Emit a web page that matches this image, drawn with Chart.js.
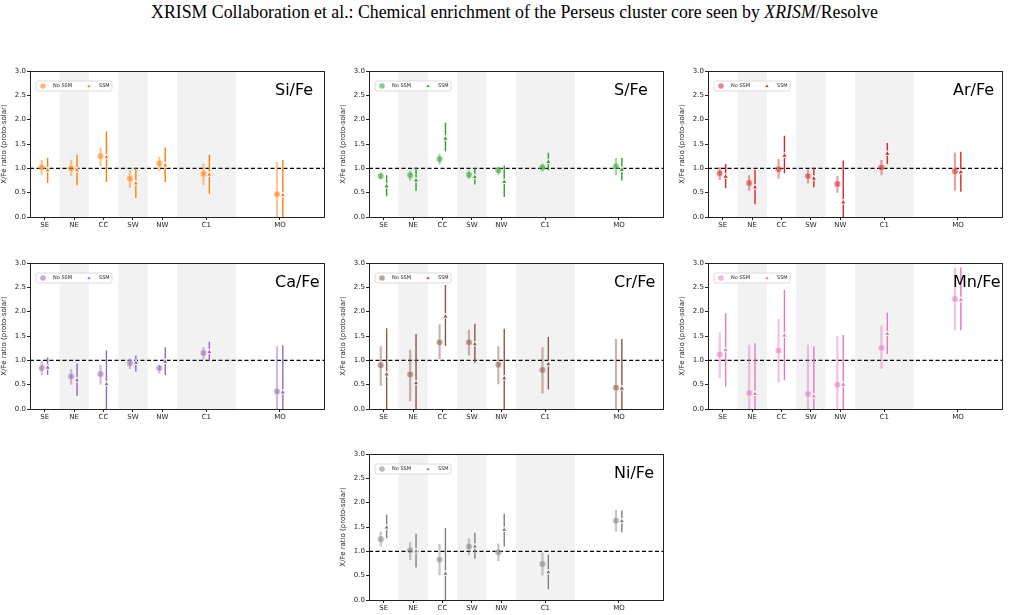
<!DOCTYPE html>
<html>
<head>
<meta charset="utf-8">
<script src="https://cdn.jsdelivr.net/npm/chart.js@4"></script>
<style>
  body { margin: 0; background: #fff; width: 1009px; height: 615px; position: relative; overflow: hidden; }
  #title { position: absolute; left: 10px; top: 2px; width: 1009px; text-align: center;
           font-family: "Liberation Serif", "DejaVu Serif", serif; font-size: 17.8px; color: #000; }
  canvas { position: absolute; }
</style>
</head>
<body>
<div id="title">XRISM Collaboration et al.: Chemical enrichment of the Perseus cluster core seen by <i>XRISM</i>/Resolve</div>

<script>
// regions and where they sit on the x axis
const regions = ["SE", "NE", "CC", "SW", "NW", "C1", "MO"];
const regionX = [0, 1, 2, 3, 4, 5.5, 8];
const bands = [[0.5, 1.5], [2.5, 3.5], [4.5, 6.5]];
const yTicks = [0, 0.5, 1, 1.5, 2, 2.5, 3];

// each entry: [value, lower, upper] per region
const siNoSSM = [[1.02, 0.86, 1.17], [1.00, 0.84, 1.17], [1.25, 1.04, 1.43], [0.79, 0.60, 0.96], [1.10, 0.93, 1.24], [0.89, 0.65, 1.10], [0.47, 0.00, 1.13]];
const siSSM   = [[0.96, 0.70, 1.22], [0.96, 0.65, 1.28], [1.23, 0.72, 1.76], [0.69, 0.39, 1.00], [1.06, 0.72, 1.43], [0.87, 0.48, 1.28], [0.45, 0.00, 1.17]];

const sNoSSM = [[0.84, 0.77, 0.91], [0.86, 0.75, 0.96], [1.19, 1.08, 1.30], [0.87, 0.78, 0.96], [0.96, 0.87, 1.04], [1.02, 0.93, 1.10], [1.04, 0.86, 1.21]];
const sSSM   = [[0.63, 0.43, 0.86], [0.75, 0.54, 1.02], [1.61, 1.35, 1.94], [0.82, 0.67, 1.00], [0.72, 0.41, 1.06], [1.13, 0.96, 1.32], [0.97, 0.75, 1.21]];

const arNoSSM = [[0.90, 0.76, 1.02], [0.70, 0.54, 0.86], [0.98, 0.79, 1.19], [0.84, 0.69, 0.97], [0.68, 0.50, 0.84], [1.02, 0.86, 1.17], [0.94, 0.54, 1.32]];
const arSSM   = [[0.83, 0.59, 1.09], [0.61, 0.26, 0.97], [1.26, 0.90, 1.67], [0.79, 0.61, 1.01], [0.30, 0.00, 1.16], [1.30, 1.09, 1.52], [0.92, 0.52, 1.34]];

const caNoSSM = [[0.84, 0.70, 0.99], [0.67, 0.50, 0.82], [0.72, 0.50, 0.91], [0.94, 0.82, 1.04], [0.84, 0.73, 0.91], [1.15, 1.02, 1.27], [0.36, 0.00, 1.29]];
const caSSM   = [[0.85, 0.70, 1.06], [0.59, 0.27, 0.94], [0.51, 0.00, 1.20], [0.95, 0.77, 1.10], [0.97, 0.70, 1.27], [1.17, 0.99, 1.38], [0.34, 0.00, 1.31]];

const crNoSSM = [[0.90, 0.48, 1.29], [0.71, 0.16, 1.22], [1.37, 1.02, 1.74], [1.37, 1.10, 1.63], [0.91, 0.51, 1.29], [0.80, 0.32, 1.27], [0.44, 0.00, 1.44]];
const crSSM   = [[0.71, 0.00, 1.66], [0.53, 0.00, 1.54], [1.90, 1.30, 2.55], [1.33, 0.95, 1.75], [0.63, 0.00, 1.65], [0.92, 0.40, 1.48], [0.42, 0.00, 1.44]];

const mnNoSSM = [[1.12, 0.63, 1.57], [0.33, 0.00, 1.32], [1.20, 0.55, 1.85], [0.31, 0.00, 1.32], [0.50, 0.00, 1.50], [1.26, 0.82, 1.71], [2.26, 1.62, 2.90]];
const mnSSM   = [[1.21, 0.46, 1.97], [0.31, 0.00, 1.35], [1.51, 0.59, 2.45], [0.26, 0.00, 1.29], [0.50, 0.00, 1.52], [1.54, 1.13, 1.98], [2.24, 1.62, 2.91]];

const niNoSSM = [[1.25, 1.10, 1.40], [1.02, 0.82, 1.19], [0.83, 0.51, 1.15], [1.10, 0.92, 1.27], [0.98, 0.80, 1.16], [0.74, 0.51, 0.97], [1.63, 1.41, 1.85]];
const niSSM   = [[1.49, 1.27, 1.75], [1.00, 0.67, 1.36], [0.54, 0.00, 1.48], [1.10, 0.85, 1.38], [1.44, 1.10, 1.77], [0.57, 0.22, 0.93], [1.62, 1.39, 1.84]];

// panel layout: plot-area corner in page pixels
const panels = [
  { name: "Si/Fe", rgb: [255, 127, 14], left: 30,  top: 71,  no: siNoSSM, ssm: siSSM },
  { name: "S/Fe",  rgb: [44, 160, 44],  left: 369, top: 71,  no: sNoSSM,  ssm: sSSM },
  { name: "Ar/Fe", rgb: [214, 39, 40],  left: 708, top: 71,  no: arNoSSM, ssm: arSSM },
  { name: "Ca/Fe", rgb: [148, 103, 189], left: 30, top: 263, no: caNoSSM, ssm: caSSM },
  { name: "Cr/Fe", rgb: [140, 86, 75],  left: 369, top: 263, no: crNoSSM, ssm: crSSM },
  { name: "Mn/Fe", rgb: [227, 119, 194], left: 708, top: 263, no: mnNoSSM, ssm: mnSSM },
  { name: "Ni/Fe", rgb: [127, 127, 127], left: 369, top: 454, no: niNoSSM, ssm: niSSM },
];

const plotW = 294, plotH = 146, padL = 30, padT = 6, padR = 8, padB = 18;
const FONT = "DejaVu Sans";
const AXIS = "#222";

function rgba(c, a) { return `rgba(${c[0]},${c[1]},${c[2]},${a})`; }

function markerData(rows, dx) {
  return rows.map((r, i) => ({ x: regionX[i] + dx, y: r[0] }));
}

function errorData(rows, dx) {
  const out = [];
  rows.forEach((r, i) => {
    out.push({ x: regionX[i] + dx, y: r[1] });
    out.push({ x: regionX[i] + dx, y: r[2] });
    out.push({ x: regionX[i] + dx, y: null });
  });
  return out;
}

const bandPlugin = {
  id: "bands",
  beforeDatasetsDraw(chart) {
    const { ctx, chartArea: ca, scales: { x } } = chart;
    ctx.save();
    ctx.fillStyle = "#f2f2f2";
    bands.forEach(b => {
      const x0 = x.getPixelForValue(b[0]), x1 = x.getPixelForValue(b[1]);
      ctx.fillRect(x0, ca.top, x1 - x0, ca.bottom - ca.top);
    });
    ctx.restore();
  }
};

const decorPlugin = {
  id: "decor",
  afterDraw(chart) {
    const { ctx, chartArea: ca } = chart;
    const p = chart.options.plugins.decor;
    ctx.save();
    // frame
    ctx.strokeStyle = AXIS;
    ctx.lineWidth = 1;
    ctx.strokeRect(Math.round(ca.left) + 0.5, Math.round(ca.top) + 0.5, Math.round(ca.right - ca.left), Math.round(ca.bottom - ca.top));

    // legend box
    const lx = ca.left + 6, ly = ca.top + 10;
    ctx.fillStyle = "rgba(255,255,255,0.85)";
    ctx.strokeStyle = "#d4d4d4";
    ctx.lineWidth = 0.8;
    ctx.beginPath();
    ctx.roundRect(lx, ly, 76, 10, 2);
    ctx.fill();
    ctx.stroke();
    ctx.fillStyle = rgba(p.rgb, 0.55);
    ctx.beginPath();
    ctx.arc(lx + 7, ly + 5, 2.8, 0, Math.PI * 2);
    ctx.fill();
    ctx.fillStyle = rgba(p.rgb, 1);
    ctx.strokeStyle = "#fff";
    Chart.helpers.drawPoint(ctx, { pointStyle: "triangle", radius: 2.6, borderWidth: 0.8 }, lx + 53, ly + 5.3);
    ctx.fillStyle = "#222";
    ctx.font = `5px "${FONT}"`;
    ctx.textBaseline = "middle";
    ctx.textAlign = "left";
    ctx.fillText("No SSM", lx + 17, ly + 5);
    ctx.fillText("SSM", lx + 63, ly + 5);

    // element label
    ctx.font = `16px "${FONT}"`;
    ctx.fillStyle = "#000";
    ctx.fillText(p.name, ca.left + 245, ca.top + 20);
    ctx.restore();
  }
};

panels.forEach(p => {
  const cv = document.createElement("canvas");
  cv.width = padL + plotW + padR;
  cv.height = padT + plotH + padB;
  cv.style.left = (p.left - padL) + "px";
  cv.style.top = (p.top - padT) + "px";
  document.body.appendChild(cv);

  const solid = rgba(p.rgb, 1), light = rgba(p.rgb, 0.45);

  new Chart(cv, {
    type: "scatter",
    data: {
      datasets: [
        { data: markerData(p.ssm, 0.1), pointStyle: "triangle", pointRadius: 3.2, backgroundColor: solid,
          borderColor: "#fff", pointBorderWidth: 1, order: 0 },
        { data: markerData(p.no, -0.1), pointStyle: "circle", pointRadius: 3.2, backgroundColor: rgba(p.rgb, 0.55),
          borderColor: "rgba(255,255,255,0.6)", pointBorderWidth: 0.5, order: 1 },
        { data: errorData(p.ssm, 0.1), showLine: true, spanGaps: false, pointRadius: 0, borderColor: solid,
          borderWidth: 1.4, order: 2 },
        { data: errorData(p.no, -0.1), showLine: true, spanGaps: false, pointRadius: 0, borderColor: light,
          borderWidth: 2.2, order: 3 },
        { data: [{ x: -0.5, y: 1 }, { x: 9.5, y: 1 }], showLine: true, pointRadius: 0, borderColor: "#000",
          borderWidth: 1.1, borderDash: [4, 2.5], order: 4 },
      ]
    },
    options: {
      responsive: false,
      animation: false,
      devicePixelRatio: 1,
      layout: { padding: { left: 0, top: padT, right: padR, bottom: 0 } },
      plugins: { legend: { display: false }, tooltip: { enabled: false }, decor: { name: p.name, rgb: p.rgb } },
      scales: {
        x: {
          type: "linear", min: -0.5, max: 9.5,
          afterBuildTicks: s => { s.ticks = regionX.map(v => ({ value: v })); },
          afterFit: s => { s.height = padB; },
          ticks: { autoSkip: false, maxRotation: 0, padding: 1, color: AXIS, font: { family: FONT, size: 7 },
                   callback: (v, i) => regions[i] },
          grid: { drawOnChartArea: false, drawTicks: true, tickLength: 3, color: AXIS },
          border: { color: AXIS, width: 1 }
        },
        y: {
          min: 0, max: 3,
          afterBuildTicks: s => { s.ticks = yTicks.map(v => ({ value: v })); },
          afterFit: s => { s.width = padL; },
          ticks: { padding: 1, color: AXIS, font: { family: FONT, size: 7 }, callback: v => v.toFixed(1) },
          grid: { drawOnChartArea: false, drawTicks: true, tickLength: 3, color: AXIS },
          border: { color: AXIS, width: 1 },
          title: { display: true, text: "X/Fe ratio (proto-solar)", color: AXIS, font: { family: FONT, size: 7 },
                   padding: { top: 0, bottom: 1 } }
        }
      }
    },
    plugins: [bandPlugin, decorPlugin]
  });
});
</script>
</body>
</html>
